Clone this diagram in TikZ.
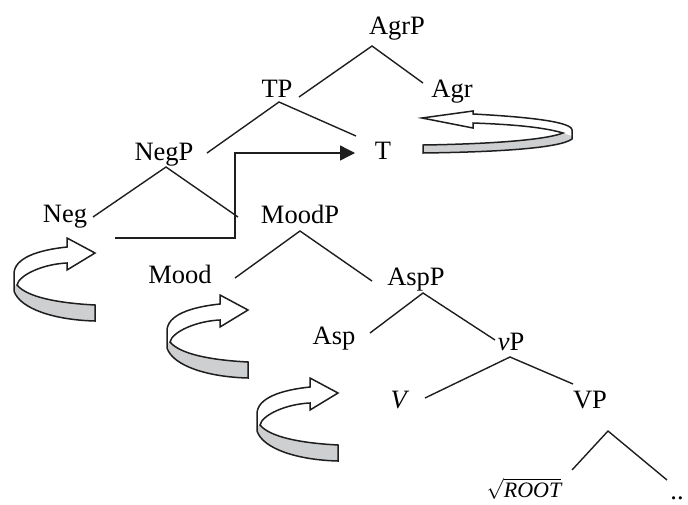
\documentclass[tikz,border=0pt]{standalone}
\usepackage{fontspec}
\setmainfont{Liberation Serif}
\usetikzlibrary{arrows.meta}
\definecolor{ribgray}{RGB}{206,207,209}
\definecolor{inkc}{RGB}{30,30,30}
\begin{document}
\begin{tikzpicture}[x=1pt,y=-1pt,
  lbl/.style={anchor=base,inner sep=0pt,font=\fontsize{26.5}{30}\selectfont},
  branch/.style={line width=1.4pt,draw=inkc},
  ribline/.style={line width=1.5pt,draw=inkc,line join=miter},
  twistarrow/.pic={
    \path[fill=white] (0,0) -- (-28,-15) -- (-28,-6) .. controls (-57,-3) and (-81,5) .. (-81,21) -- (-81,38) .. controls (-75,56) and (-40,67) .. (0,68) -- (0,52) .. controls (-38,50) and (-68,44) .. (-78,32) .. controls (-76,22) and (-52,11) .. (-28,10) -- (-28,17) -- cycle;
    \fill[ribgray] (-81,33) -- (-81,38) .. controls (-75,56) and (-40,67) .. (0,68) -- (0,52) .. controls (-38,50) and (-68,44) .. (-78,32) -- cycle;
    \draw[ribline] (0,0) -- (-28,-15) -- (-28,-6) .. controls (-57,-3) and (-81,5) .. (-81,21) -- (-81,38) .. controls (-75,56) and (-40,67) .. (0,68) -- (0,52) .. controls (-38,50) and (-68,44) .. (-78,32) .. controls (-76,22) and (-52,11) .. (-28,10) -- (-28,17) -- cycle;
  }
]
\useasboundingbox (0,0) rectangle (688,504);

% labels
\node[lbl] (agrp) at (397,34) {AgrP};
\node[lbl] (tp) at (277,97) {TP};
\node[lbl] (agr) at (452,97) {Agr};
\node[lbl] (negp) at (164,160) {NegP};
\node[lbl] (t) at (383,159) {T};
\node[lbl] (neg) at (65,222) {Neg};
\node[lbl] (moodp) at (300,223) {MoodP};
\node[lbl] (mood) at (180,283) {Mood};
\node[lbl] (aspp) at (416,285) {AspP};
\node[lbl] (asp) at (334,344) {Asp};
\node[lbl] (vp) at (511,350) {\textit{v}P};
\node[lbl] (vv) at (400,408) {\textit{V}};
\node[lbl] (vpp) at (590,408) {VP};
\node[anchor=base,inner sep=0pt,font=\fontsize{22}{26}\selectfont] (root) at (524,497) {$\sqrt{\textit{ROOT}}$};
\node[lbl] (dots) at (677,499) {..};

% tree branch points
\coordinate (agrp-a) at (372,46);
\coordinate (tp-u) at (299,97);
\coordinate (agr-u) at (423,83);
\coordinate (tp-a) at (279,102);
\coordinate (negp-u) at (207,153);
\coordinate (t-u) at (356,136);
\coordinate (negp-a) at (166,167);
\coordinate (neg-u) at (93,217);
\coordinate (moodp-u) at (238,217);
\coordinate (moodp-a) at (300,231);
\coordinate (mood-u) at (235,278);
\coordinate (aspp-u) at (372,281);
\coordinate (aspp-a) at (423,293);
\coordinate (asp-u) at (370,333);
\coordinate (vp-u) at (495,340);
\coordinate (vp-a) at (510,357);
\coordinate (vv-u) at (425,398);
\coordinate (vpp-u) at (573,384);
\coordinate (vpp-a) at (608,431);
\coordinate (root-u) at (572,470);
\coordinate (dots-u) at (667,480);

\draw[branch] (tp-u) -- (agrp-a) -- (agr-u);
\draw[branch] (negp-u) -- (tp-a) -- (t-u);
\draw[branch] (neg-u) -- (negp-a) -- (moodp-u);
\draw[branch] (mood-u) -- (moodp-a) -- (aspp-u);
\draw[branch] (asp-u) -- (aspp-a) -- (vp-u);
\draw[branch] (vv-u) -- (vp-a) -- (vpp-u);
\draw[branch] (root-u) -- (vpp-a) -- (dots-u);

% head movement Neg -> T
\coordinate (mv-start) at (115,238);
\coordinate (mv-tip) at (355,153);
\draw[branch,-{Triangle[length=15pt,width=15pt]}] (mv-start) -- (235,238) |- (mv-tip);

% twisted arrows
\pic at (95,253) {twistarrow};
\pic at (248,310) {twistarrow};
\pic at (338,393) {twistarrow};

% Agr twisted arrow
\path[fill=white] (422,118) -- (473,111) -- (473,114) .. controls (530,117) and (572,122) .. (572,130) -- (572,139) .. controls (560,148) and (500,152) .. (423,153) -- (423,145) .. controls (490,144) and (545,140) .. (563,133) .. controls (540,126) and (500,124) .. (473,123) -- (473,128) -- cycle;
\fill[ribgray] (423,145) .. controls (490,144) and (545,140) .. (563,133) -- (572,136) -- (572,139) .. controls (560,148) and (500,152) .. (423,153) -- cycle;
\draw[ribline] (422,118) -- (473,111) -- (473,114) .. controls (530,117) and (572,122) .. (572,130) -- (572,139) .. controls (560,148) and (500,152) .. (423,153) -- (423,145) .. controls (490,144) and (545,140) .. (563,133) .. controls (540,126) and (500,124) .. (473,123) -- (473,128) -- cycle;
\end{tikzpicture}
\end{document}
